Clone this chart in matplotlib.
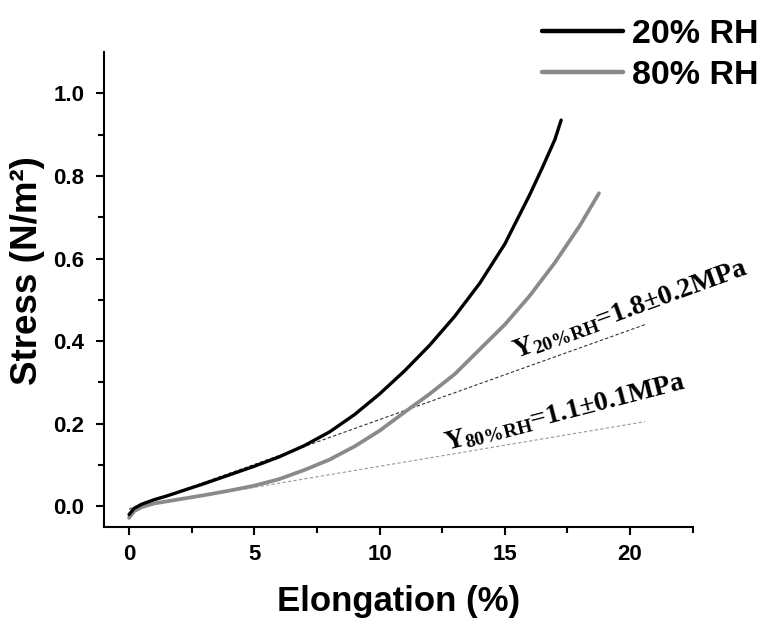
import matplotlib
matplotlib.use("Agg")
import matplotlib.pyplot as plt

# Data
x20 = [0, 0.2, 0.5, 1, 1.5, 2, 3, 4, 5, 6, 7, 8, 9, 10, 11, 12, 13, 14, 15, 16, 16.5, 17, 17.25]
y20 = [-0.02, -0.005, 0.005, 0.016, 0.025, 0.035, 0.055, 0.076, 0.097, 0.12, 0.147, 0.18, 0.222, 0.272, 0.328, 0.39, 0.46, 0.54, 0.635, 0.755, 0.82, 0.888, 0.935]
x80 = [0, 0.2, 0.5, 1, 1.5, 2, 3, 4, 5, 6, 7, 8, 9, 10, 11, 12, 13, 14, 15, 16, 17, 18, 18.76]
y80 = [-0.028, -0.012, -0.002, 0.007, 0.012, 0.017, 0.027, 0.038, 0.05, 0.066, 0.088, 0.113, 0.145, 0.183, 0.228, 0.272, 0.32, 0.38, 0.44, 0.51, 0.59, 0.68, 0.758]
fit20_x = [0, 20.6]
fit20_y = [-0.007, 0.44]
fit80_x = [0, 20.6]
fit80_y = [-0.005, 0.205]
labels = ["20% RH", "80% RH"]
xticks = [0, 5, 10, 15, 20]
yticks = [0.0, 0.2, 0.4, 0.6, 0.8, 1.0]

plt.rcParams['font.family'] = ['Liberation Sans', 'DejaVu Sans']
plt.rcParams['mathtext.fontset'] = 'custom'
plt.rcParams['mathtext.rm'] = 'Liberation Serif:bold'
plt.rcParams['mathtext.bf'] = 'Liberation Serif:bold'
plt.rcParams['mathtext.it'] = 'Liberation Serif:bold'

fig = plt.figure(figsize=(7.62, 6.21), dpi=100)
ax = fig.add_axes([0.1365, 0.1514, 0.7725, 0.7649])

ax.plot(fit20_x, fit20_y, color='#333333', lw=0.8, ls=(0, (3, 2)), zorder=1)
ax.plot(fit80_x, fit80_y, color='#999999', lw=0.8, ls=(0, (3, 2)), zorder=1)
l1, = ax.plot(x20, y20, color='black', lw=2.4, label=labels[0], zorder=3,
              solid_capstyle='round')
l2, = ax.plot(x80, y80, color='#8a8a8a', lw=2.7, label=labels[1], zorder=2,
              solid_capstyle='round')

ax.set_xlim(-1, 22.5)
ax.set_ylim(-0.05, 1.1)
ax.set_xticks(xticks)
ax.set_xticks([2.5, 7.5, 12.5, 17.5, 22.5], minor=True)
ax.set_yticks(yticks)
ax.set_yticks([0.1, 0.3, 0.5, 0.7, 0.9], minor=True)
ax.set_xticklabels([str(v) for v in xticks])
ax.set_yticklabels([f"{v:.1f}" for v in yticks])
for s in ['top', 'right']:
    ax.spines[s].set_visible(False)
for s in ['left', 'bottom']:
    ax.spines[s].set_linewidth(1.5)
ax.tick_params(which='major', length=6, width=1.5, labelsize=16, direction='out')
ax.tick_params(axis='x', which='major', pad=6)
ax.tick_params(axis='y', which='major', pad=8)
ax.tick_params(which='minor', length=4, width=1.5, direction='out')
for t in ax.get_xticklabels() + ax.get_yticklabels():
    t.set_fontweight('bold')

ax.set_xlabel("Elongation (%)", fontsize=25, fontweight='bold')
ax.set_ylabel("Stress (N/m²)", fontsize=26.5, fontweight='bold')
ax.xaxis.set_label_coords(0.5, -0.122)
ax.yaxis.set_label_coords(-0.1, 0.539)

ax.legend(handles=[l1, l2], loc='upper right', bbox_to_anchor=(1.013, 0.992),
          bbox_transform=fig.transFigure, frameon=False,
          prop={'weight': 'bold', 'size': 24.5}, handlelength=2.4, handletextpad=0.25,
          labelspacing=0.3, borderaxespad=0)
for h in ax.get_legend().get_lines():
    h.set_linewidth(3.2)

ax.text(20.0, 0.476, "Y$_{20\\%RH}$=1.8±0.2MPa", rotation=20, fontsize=20,
        family=['Liberation Serif'], fontweight='bold', ha='center', va='center',
        rotation_mode='anchor')
ax.text(17.4, 0.228, "Y$_{80\\%RH}$=1.1±0.1MPa", rotation=14.5, fontsize=20,
        family=['Liberation Serif'], fontweight='bold', ha='center', va='center',
        rotation_mode='anchor')

fig.savefig("out.png", dpi=100)
